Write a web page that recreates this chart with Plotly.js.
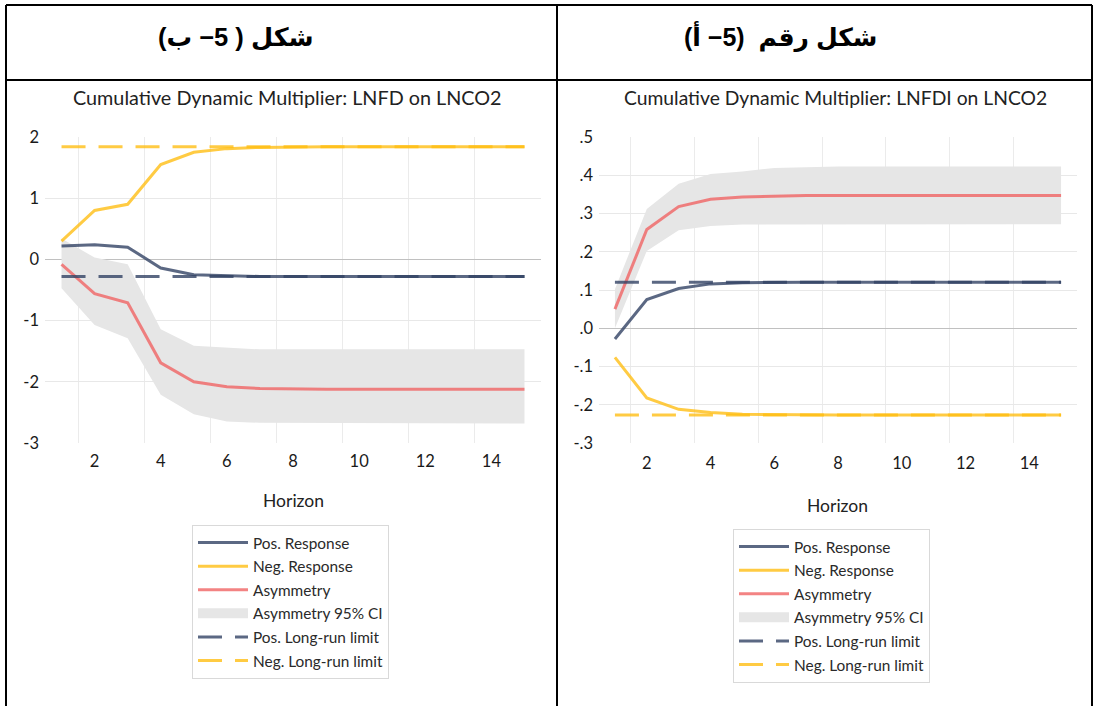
<!DOCTYPE html>
<html><head><meta charset="utf-8">
<script src="https://cdn.plot.ly/plotly-3.0.1.min.js"></script>
<style>html,body{margin:0;padding:0;background:#fff;} #chart{width:1096px;height:706px;}</style>
</head><body><div id="chart"></div>
<script>
// ---------- data ----------
const horizon = [1,2,3,4,5,6,7,8,9,10,11,12,13,14,15];
const xTickVals = [2,4,6,8,10,12,14];
const xTickText = ['2','4','6','8','10','12','14'];

// Panel (5-b): LNFD on LNCO2
const fdPos  = [0.22,0.24,0.20,-0.14,-0.25,-0.27,-0.28,-0.28,-0.28,-0.28,-0.28,-0.28,-0.28,-0.28,-0.28];
const fdNeg  = [0.30,0.80,0.90,1.55,1.75,1.81,1.83,1.84,1.84,1.84,1.84,1.84,1.84,1.84,1.84];
const fdAsym = [-0.08,-0.56,-0.71,-1.69,-2.00,-2.08,-2.11,-2.12,-2.12,-2.12,-2.12,-2.12,-2.12,-2.12,-2.12];
const fdCiUp = [0.34,0.03,-0.08,-1.14,-1.41,-1.44,-1.47,-1.47,-1.47,-1.47,-1.47,-1.47,-1.47,-1.47,-1.47];
const fdCiLo = [-0.47,-1.07,-1.29,-2.21,-2.53,-2.65,-2.67,-2.68,-2.68,-2.68,-2.68,-2.68,-2.68,-2.68,-2.68];
const fdPosLimit = -0.28;
const fdNegLimit = 1.84;
const fdYTickVals = [-3,-2,-1,0,1,2];
const fdYTickText = ['-3','-2','-1','0','1','2'];

// Panel (5-a): LNFDI on LNCO2
const fdiPos  = [-0.028,0.075,0.104,0.116,0.119,0.120,0.120,0.120,0.120,0.120,0.120,0.120,0.120,0.120,0.120];
const fdiNeg  = [-0.076,-0.182,-0.212,-0.220,-0.225,-0.226,-0.227,-0.227,-0.227,-0.227,-0.227,-0.227,-0.227,-0.227,-0.227];
const fdiAsym = [0.050,0.258,0.318,0.337,0.343,0.346,0.347,0.347,0.347,0.347,0.347,0.347,0.347,0.347,0.347];
const fdiCiUp = [0.102,0.312,0.378,0.403,0.410,0.419,0.421,0.423,0.423,0.423,0.423,0.423,0.423,0.423,0.423];
const fdiCiLo = [0.000,0.202,0.256,0.267,0.271,0.272,0.272,0.272,0.272,0.272,0.272,0.272,0.272,0.272,0.272];
const fdiPosLimit = 0.12;
const fdiNegLimit = -0.227;
const fdiYTickVals = [-0.3,-0.2,-0.1,0,0.1,0.2,0.3,0.4,0.5];
const fdiYTickText = ['-.3','-.2','-.1','.0','.1','.2','.3','.4','.5'];

const titleLeft = 'Cumulative Dynamic Multiplier: LNFD on LNCO2';
const titleRight = 'Cumulative Dynamic Multiplier: LNFDI on LNCO2';
const headerLeft = '\u202Bشكل ( 5\u2212 ب)\u202C';
const headerRight = '\u202Bشكل رقم  (5\u2212 أ)\u202C';
const names = ['Pos. Response','Neg. Response','Asymmetry','Asymmetry 95% CI','Pos. Long-run limit','Neg. Long-run limit'];

// ---------- styles ----------
const W = 1096, H = 706;
const px = v => v / W, py = v => (H - v) / H;
const cPos = 'rgba(50,66,100,0.8)';
const cNeg = 'rgba(255,190,20,0.8)';
const cAsym = 'rgba(240,100,100,0.8)';
const cBand = '#e6e6e6';
const dashPat = '24px,13px';
const FONT = 'Lato, "Open Sans", sans-serif';

function panel(xa, ya, lg, pos, neg, asym, up, lo, posLim, negLim) {
  const first = horizon[0], last = horizon[horizon.length - 1];
  const tr = [];
  tr.push({x: horizon.concat(horizon.slice().reverse()), y: up.concat(lo.slice().reverse()),
    type:'scatter', mode:'lines', fill:'toself', fillcolor:cBand, line:{width:0, color:cBand},
    xaxis:xa, yaxis:ya, showlegend:false, hoverinfo:'skip'});
  tr.push({x:horizon, y:pos, type:'scatter', mode:'lines', name:names[0], line:{color:cPos, width:3}, xaxis:xa, yaxis:ya, legend:lg, legendgroup:lg+'a'});
  tr.push({x:horizon, y:neg, type:'scatter', mode:'lines', name:names[1], line:{color:cNeg, width:3}, xaxis:xa, yaxis:ya, legend:lg, legendgroup:lg+'b'});
  tr.push({x:horizon, y:asym, type:'scatter', mode:'lines', name:names[2], line:{color:cAsym, width:3}, xaxis:xa, yaxis:ya, legend:lg, legendgroup:lg+'c'});
  // legend entry for the confidence band (draws nothing on the plot)
  tr.push({x:[null], y:[null], type:'scatter', mode:'lines', name:names[3],
    line:{color:cBand, width:15}, xaxis:xa, yaxis:ya, legend:lg, legendgroup:lg+'d'});
  tr.push({x:[first,last], y:[posLim,posLim], type:'scatter', mode:'lines', name:names[4], line:{color:cPos, width:3, dash:dashPat}, xaxis:xa, yaxis:ya, legend:lg, legendgroup:lg+'e'});
  tr.push({x:[first,last], y:[negLim,negLim], type:'scatter', mode:'lines', name:names[5], line:{color:cNeg, width:3, dash:dashPat}, xaxis:xa, yaxis:ya, legend:lg, legendgroup:lg+'f'});
  return tr;
}

const data = [].concat(
  panel('x','y','legend', fdPos, fdNeg, fdAsym, fdCiUp, fdCiLo, fdPosLimit, fdNegLimit),
  panel('x2','y2','legend2', fdiPos, fdiNeg, fdiAsym, fdiCiUp, fdiCiLo, fdiPosLimit, fdiNegLimit)
);

const xGrid = xTickVals.map(v => v - 0.5);
function xAxis(dom, anchor, standoff) {
  return {domain:dom, anchor:anchor, range:[0.5,15.5], tickmode:'array', tickvals:xTickVals, ticktext:xTickText,
    showgrid:false, zeroline:false, showline:false, ticks:'', tickfont:{size:16.5, color:'#1a1a1a', family:FONT},
    ticklabelstandoff:standoff, fixedrange:true,
    minor:{tickmode:'array', tickvals:xGrid, showgrid:true, gridcolor:'#ebebeb', gridwidth:1, ticks:''}};
}
function yAxis(dom, anchor, rng, tv, tt) {
  return {domain:dom, anchor:anchor, range:rng, tickmode:'array', tickvals:tv, ticktext:tt,
    showgrid:true, gridcolor:'#e8e8e8', gridwidth:1, zeroline:true, zerolinecolor:'#c0c0c0', zerolinewidth:1,
    showline:false, ticks:'', tickfont:{size:16.5, color:'#1a1a1a', family:FONT}, ticklabelstandoff:5, fixedrange:true};
}
const yDom = [py(443), py(137)];
const legendStyle = (x, y) => ({x:x, y:y, xanchor:'left', yanchor:'top', bgcolor:'#fff', bordercolor:'#d9d9d9', borderwidth:1,
  font:{family:FONT, size:15.4, color:'#2a2a2a'}, itemwidth:50, tracegroupgap:0.6, traceorder:'grouped', itemclick:false, itemdoubleclick:false});

const border = (x0,y0,x1,y1) => ({type:'line', xref:'paper', yref:'paper', x0:px(x0), y0:py(y0), x1:px(x1), y1:py(y1), line:{color:'#000', width:2}});
const ann = (text, x, y, size, color, family) => ({text:text, xref:'paper', yref:'paper', x:px(x), y:py(y), xanchor:'center', yanchor:'middle', showarrow:false, font:{size:size, color:color, family:family}});
const AR = '"Liberation Sans", "DejaVu Sans", sans-serif';

const layout = {
  width:W, height:H, margin:{l:0,r:0,t:0,b:0}, paper_bgcolor:'#fff', plot_bgcolor:'#fff',
  font:{family:FONT, color:'#222'}, showlegend:true, hovermode:false,
  xaxis: xAxis([px(45), px(541)], 'y', 6),
  yaxis: yAxis(yDom, 'x', [-3,2], fdYTickVals, fdYTickText),
  xaxis2: xAxis([px(599), px(1077)], 'y2', 8),
  yaxis2: yAxis(yDom, 'x2', [-0.3,0.5], fdiYTickVals, fdiYTickText),
  legend: legendStyle(px(192), py(525)),
  legend2: legendStyle(px(733), py(529)),
  annotations: [
    ann(titleLeft, 287, 97, 19.8, '#222', FONT),
    ann(titleRight, 835, 97, 19.3, '#222', FONT),
    ann('Horizon', 293, 501, 17.5, '#222', FONT),
    ann('Horizon', 837, 505, 17.5, '#222', FONT),
    ann('<b>'+headerLeft+'</b>', 236, 37, 25.5, '#000', AR),
    ann('<b>'+headerRight+'</b>', 780, 37, 25, '#000', AR)
  ],
  shapes: [
    border(6,5,1092,5), border(6,80,1092,80),
    border(6,5,6,706), border(557,5,557,706), border(1092,5,1092,706)
  ]
};

Plotly.newPlot('chart', data, layout, {displayModeBar:false, staticPlot:true});
</script></body></html>
